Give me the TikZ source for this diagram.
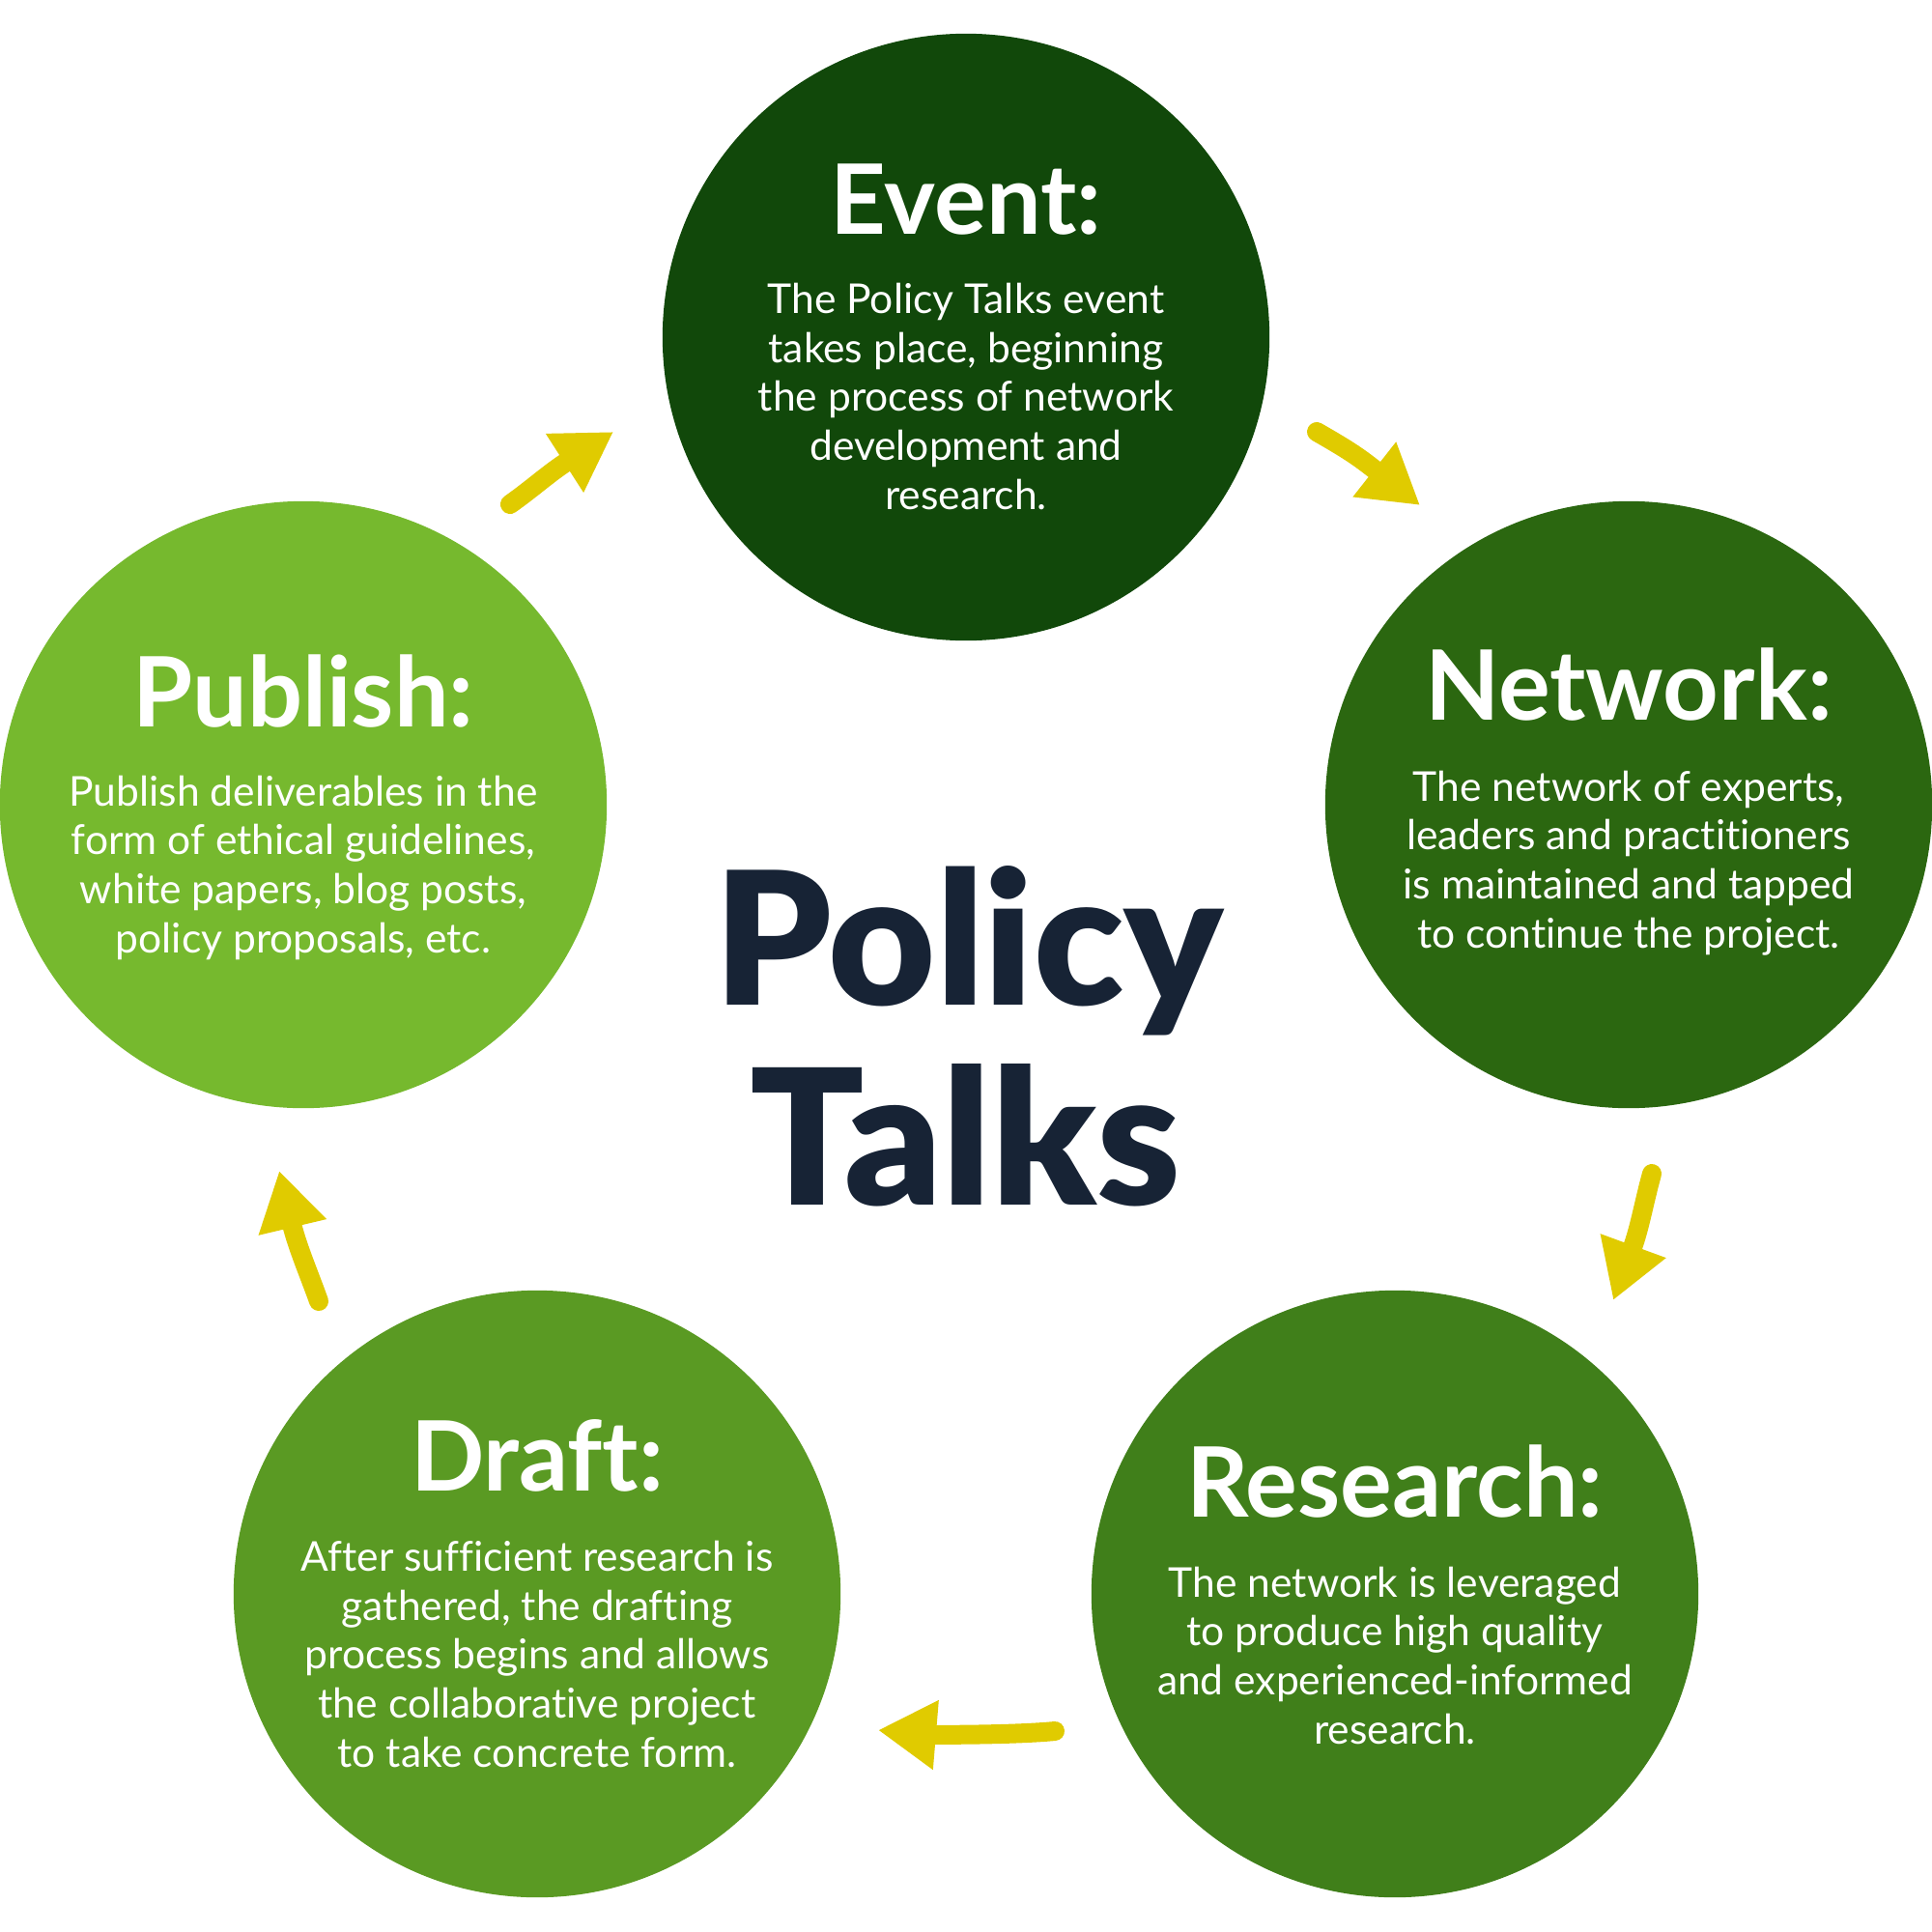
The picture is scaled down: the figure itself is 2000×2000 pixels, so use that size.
\documentclass[tikz,border=0pt]{standalone}
\usepackage{fontspec}
\setmainfont{Lato}[Ligatures=NoCommon]
\newfontfamily\titlefont{Lato Black}
\usetikzlibrary{arrows.meta}
\definecolor{cEvent}{HTML}{11480A}
\definecolor{cNetwork}{HTML}{2B6710}
\definecolor{cResearch}{HTML}{407F1A}
\definecolor{cDraft}{HTML}{5A9A23}
\definecolor{cPublish}{HTML}{76B92E}
\definecolor{arrowc}{HTML}{E0CB00}
\definecolor{titlec}{HTML}{172335}
\begin{document}
\begin{tikzpicture}[x=0.01cm,y=-0.01cm,
  stage/.style={circle, minimum size=6.28cm, inner sep=0pt, draw=none},
  head/.style={anchor=base, text=white, inner sep=0pt, font=\fontsize{28.6}{30}\selectfont\bfseries},
  body/.style={anchor=base, text=white, align=center, inner sep=0pt, font=\fontsize{12.1}{14.4}\selectfont},
  titletext/.style={anchor=base, text=titlec, inner sep=0pt},
  flow/.style={draw=arrowc, line width=0.2cm, line cap=round, -{Triangle[length=0.6cm,width=0.68cm]}},
]
\useasboundingbox (0,0) rectangle (2000,2000);

% circles
\node[stage, fill=cEvent]    (event)    at (1000,349)  {};
\node[stage, fill=cNetwork]  (network)  at (1686,833)  {};
\node[stage, fill=cResearch] (research) at (1444,1650) {};
\node[stage, fill=cDraft]    (draft)    at (556,1650)  {};
\node[stage, fill=cPublish]  (publish)  at (314,833)   {};

% texts (body nodes are anchored at the baseline of their last line)
\node[head] (eventH) at (1000,242) {Event:};
\node[body] (eventB) at (1000,527) {The Policy Talks event\\takes place, beginning\\the process of network\\development and\\research.};

\node[head] (networkH) at (1686,745) {Network:};
\node[body] (networkB) at (1686,981) {The network of experts,\\leaders and practitioners\\is maintained and tapped\\to continue the project.};

\node[head] (researchH) at (1444,1570) {Research:};
\node[body] (researchB) at (1444,1805) {The network is leveraged\\to produce high quality\\and experienced-informed\\research.};

\node[head] (draftH) at (556,1543) {Draft:};
\node[body] (draftB) at (556,1829) {After sufficient research is\\gathered, the drafting\\process begins and allows\\the collaborative project\\to take concrete form.};

\node[head] (publishH) at (314,752) {Publish:};
\node[body] (publishB) at (314,986) {Publish deliverables in the\\form of ethical guidelines,\\white papers, blog posts,\\policy proposals, etc.};

% title
\node[titletext, font=\fontsize{54.5}{60}\selectfont\titlefont] (title1) at (1003,1040) {Policy};
\node[titletext, font=\fontsize{55.5}{60}\selectfont\titlefont] (title2) at (999,1247) {Talks};

% arrows
\coordinate (a1s) at (1363,447);  \coordinate (a1t) at (1470,523);
\coordinate (a2s) at (1710,1215); \coordinate (a2t) at (1670,1346);
\coordinate (a3s) at (1092,1792); \coordinate (a3t) at (909,1791);
\coordinate (a4s) at (330,1347);  \coordinate (a4t) at (289,1212);
\coordinate (a5s) at (528,522);   \coordinate (a5t) at (635,447);

\draw[flow] (a1s) .. controls (1398,467) and (1407,473.5) .. (a1t);
\draw[flow] (a2s) .. controls (1702,1244) and (1697.5,1271) .. (a2t);
\draw[flow] (a3s) .. controls (1052,1796) and (969,1796) .. (a3t);
\draw[flow] (a4s) .. controls (320,1319) and (307.5,1290) .. (a4t);
\draw[flow] (a5s) .. controls (552,505) and (568,490) .. (a5t);
\end{tikzpicture}
\end{document}
